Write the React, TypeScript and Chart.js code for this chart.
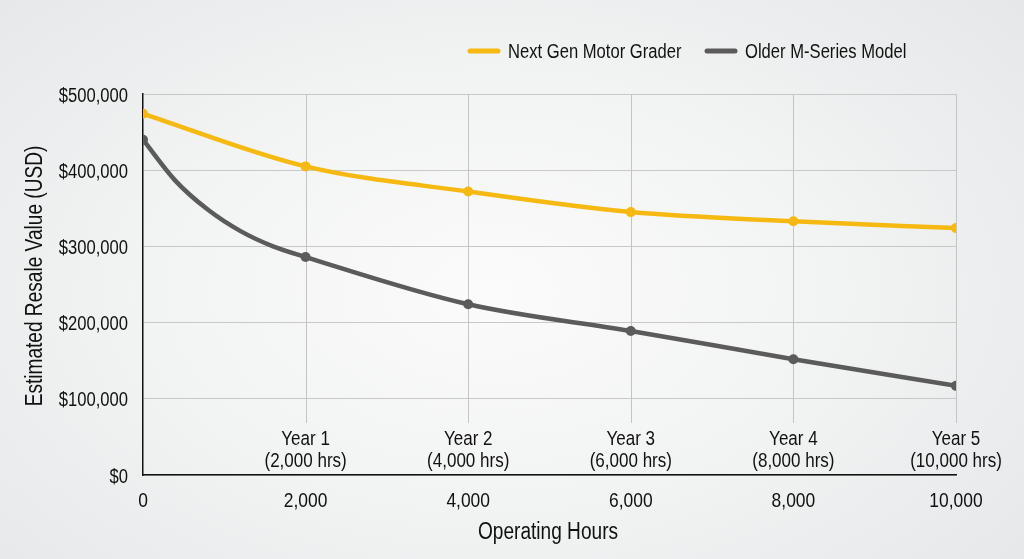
import React, { useEffect, useRef } from "react";
import { Chart, registerables } from "chart.js";

Chart.register(...registerables);

// Hours where the reference draws markers, with values
const hours = [0, 2000, 4000, 6000, 8000, 10000];
const nextGen = [474000, 405000, 372000, 345000, 333000, 324000];
const olderModel = [440000, 286000, 224000, 189000, 152000, 117000];
// Extra readings of the older model's curve between 0 and 2,000 hrs (no markers)
const olderExtraHours = [400, 800, 1200, 1600];
const olderExtraValues = [386000, 348000, 320000, 300000];

const seriesNames = ["Next Gen Motor Grader", "Older M-Series Model"];
const yearPositions = [2000, 4000, 6000, 8000, 10000];
const yearLabels = ["Year 1", "Year 2", "Year 3", "Year 4", "Year 5"];
const yearHours = ["(2,000 hrs)", "(4,000 hrs)", "(6,000 hrs)", "(8,000 hrs)", "(10,000 hrs)"];
const yTitle = "Estimated Resale Value (USD)";
const xTitle = "Operating Hours";

const YELLOW = "#f6b912";
const GRAY = "#5b5b5b";
const FONT = "'Liberation Sans', Arial, sans-serif";
const TEXT = "#111111";
const SX = 0.83; // horizontal condensing of text

function drawText(
  ctx: CanvasRenderingContext2D,
  text: string,
  x: number,
  y: number,
  size: number,
  align: CanvasTextAlign,
  rotate = 0
) {
  ctx.save();
  ctx.translate(x, y);
  if (rotate) ctx.rotate(rotate);
  ctx.scale(SX, 1);
  ctx.font = `${size}px ${FONT}`;
  ctx.textAlign = align;
  ctx.textBaseline = "alphabetic";
  ctx.fillStyle = TEXT;
  ctx.fillText(text, 0, 0);
  ctx.restore();
}

const fmt = (v: number) => Number(v).toLocaleString("en-US");

const overlay = {
  id: "overlay",
  beforeDatasetsDraw(chart: any) {
    const { ctx, chartArea, scales } = chart;
    const x = scales.x;
    ctx.save();
    ctx.strokeStyle = "#c4c4c4";
    ctx.lineWidth = 1;
    yearPositions.forEach((v) => {
      const px = Math.round(x.getPixelForValue(v)) + 0.5;
      ctx.beginPath();
      ctx.moveTo(px, chartArea.top);
      ctx.lineTo(px, chartArea.bottom - 52);
      ctx.stroke();
    });
    ctx.restore();
  },
  afterDraw(chart: any) {
    const { ctx, chartArea, scales } = chart;
    const x = scales.x;
    const y = scales.y;
    y.ticks.forEach((t: any) => {
      drawText(ctx, "$" + fmt(t.value), chartArea.left - 15, y.getPixelForValue(t.value) + 7.5, 20, "right");
    });
    x.ticks.forEach((t: any) => {
      drawText(ctx, fmt(t.value), x.getPixelForValue(t.value), chartArea.bottom + 32, 21, "center");
    });
    yearPositions.forEach((v, i) => {
      const px = x.getPixelForValue(v);
      drawText(ctx, yearLabels[i], px, chartArea.bottom - 30, 20.5, "center");
      drawText(ctx, yearHours[i], px, chartArea.bottom - 8.5, 20.5, "center");
    });
    drawText(ctx, xTitle, 548, 539, 23, "center");
    drawText(ctx, yTitle, 42, 276, 23, "center", -Math.PI / 2);
    const items = [
      { c: YELLOW, x: 468, t: seriesNames[0] },
      { c: GRAY, x: 705, t: seriesNames[1] },
    ];
    ctx.save();
    items.forEach((it) => {
      ctx.strokeStyle = it.c;
      ctx.lineWidth = 5;
      ctx.lineCap = "round";
      ctx.beginPath();
      ctx.moveTo(it.x + 2, 51);
      ctx.lineTo(it.x + 30, 51);
      ctx.stroke();
    });
    ctx.restore();
    items.forEach((it) => drawText(ctx, it.t, it.x + 40, 58, 20, "left"));
  },
};

export default function App() {
  const ref = useRef<HTMLCanvasElement>(null);
  useEffect(() => {
    const olderPts = hours
      .map((h, i) => ({ x: h, y: olderModel[i] }))
      .concat(olderExtraHours.map((h, i) => ({ x: h, y: olderExtraValues[i] })))
      .sort((a, b) => a.x - b.x);
    const markerRadius = (c: any) => (c.raw && c.raw.x % 2000 === 0 ? 5 : 0);
    const chart = new Chart(ref.current!, {
      type: "line",
      data: {
        datasets: [
          {
            label: seriesNames[0],
            data: hours.map((h, i) => ({ x: h, y: nextGen[i] })),
            borderColor: YELLOW,
            backgroundColor: YELLOW,
            borderWidth: 4.5,
            pointRadius: 5,
            pointBorderWidth: 0,
            cubicInterpolationMode: "monotone",
          },
          {
            label: seriesNames[1],
            data: olderPts,
            borderColor: GRAY,
            backgroundColor: GRAY,
            borderWidth: 4.5,
            pointRadius: markerRadius,
            pointBorderWidth: 0,
            cubicInterpolationMode: "monotone",
          },
        ],
      },
      options: {
        animation: false,
        responsive: false,
        maintainAspectRatio: false,
        layout: { padding: { top: 94, right: 68, left: 0, bottom: 0 } },
        plugins: { legend: { display: false }, tooltip: { enabled: false } },
        scales: {
          x: {
            type: "linear",
            min: 0,
            max: 10000,
            afterFit: (s: any) => {
              s.height = 84;
            },
            grid: { display: false, drawTicks: false },
            border: { color: "#111", width: 1.5 },
            ticks: { stepSize: 2000, display: false },
          },
          y: {
            min: 0,
            max: 500000,
            afterFit: (s: any) => {
              s.width = 143;
            },
            grid: { color: "#c8c8c8", drawTicks: false, lineWidth: 1 },
            border: { color: "#111", width: 1.5 },
            ticks: { stepSize: 100000, display: false },
          },
        },
      },
      plugins: [overlay],
    });
    return () => chart.destroy();
  }, []);
  return (
    <div
      style={{
        position: "fixed",
        left: 0,
        top: 0,
        width: 1024,
        height: 559,
        background:
          "radial-gradient(ellipse 75% 85% at 48% 52%, #fbfbfb 0%, #f2f3f3 45%, #e3e5e7 100%)",
      }}
    >
      <canvas ref={ref} width={1024} height={559} style={{ display: "block" }} />
    </div>
  );
}
